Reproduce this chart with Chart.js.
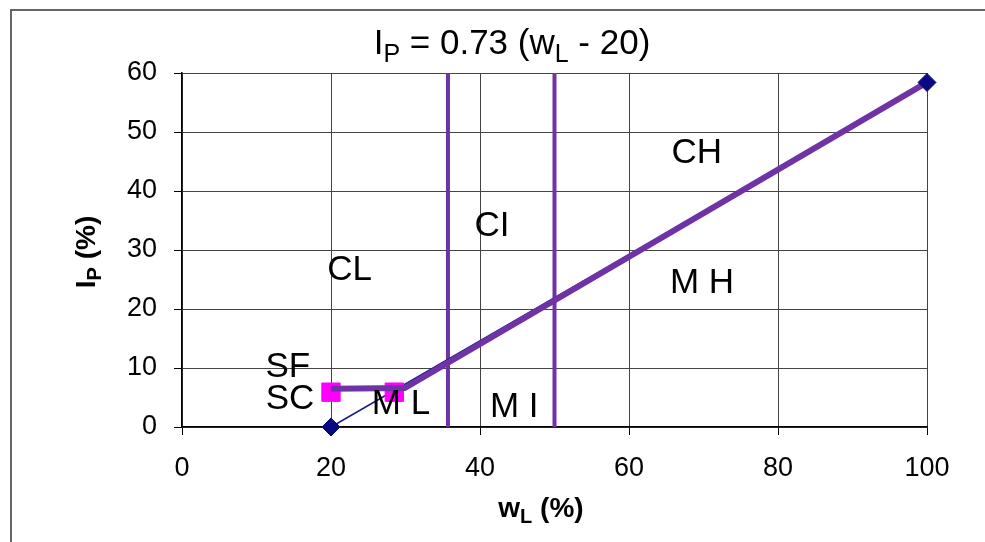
<!DOCTYPE html>
<html>
<head>
<meta charset="utf-8">
<script src="https://cdn.jsdelivr.net/npm/chart.js@4"></script>
<style>
  html, body { margin: 0; padding: 0; background: #fff; }
  #wrap { position: relative; width: 985px; height: 542px; }
</style>
</head>
<body>
<div id="wrap"><canvas id="plasticity"></canvas></div>
<script>
// values
const aLineWl = [20, 100];
const aLineIp = [0, 58.4];
const boundaryWl = [20, 29.9, 100];
const boundaryIp = [6.5, 6.6, 58.4];
const siltSandWl = [20, 28.5];
const siltSandIp = [5.9, 5.9];
const limitWl = [35.7, 50];
const limitIp = [0, 60];
const zoneNames = ['CH', 'CI', 'CL', 'M H', 'SF', 'SC', 'M L', 'M I'];
const zoneWl = [69.1, 41.6, 22.5, 69.8, 14.2, 14.5, 29.4, 44.6];
const zoneIp = [46.8, 34.3, 26.9, 24.7, 10.5, 5.1, 4.1, 3.7];

const FONT = '"Liberation Sans", Arial, sans-serif';
const PURPLE = '#7033a6';
const NAVY = '#0a0a80';

const toPoints = (xs, ys) => xs.map((x, i) => ({ x: x, y: ys[i] }));

// text with subscripts: parts = [[text, isSub], ...]
function drawRich(ctx, parts, cx, cy, size, bold) {
  const weight = bold ? 'bold ' : '';
  const subSize = Math.round(size * 0.7);
  let total = 0;
  parts.forEach(p => {
    ctx.font = weight + (p[1] ? subSize : size) + 'px ' + FONT;
    total += ctx.measureText(p[0]).width;
  });
  let x = cx - total / 2;
  ctx.textAlign = 'left';
  ctx.textBaseline = 'alphabetic';
  parts.forEach(p => {
    ctx.font = weight + (p[1] ? subSize : size) + 'px ' + FONT;
    ctx.fillText(p[0], x, cy + (p[1] ? size * 0.22 : 0));
    x += ctx.measureText(p[0]).width;
  });
}

const textPlugin = {
  id: 'texts',
  beforeDraw(chart) {
    const ctx = chart.ctx;
    ctx.save();
    ctx.strokeStyle = '#666';
    ctx.lineWidth = 2;
    ctx.beginPath();
    ctx.moveTo(11, 542);
    ctx.lineTo(11, 10);
    ctx.lineTo(985, 10);
    ctx.stroke();
    ctx.restore();
  },
  afterDraw(chart) {
    const ctx = chart.ctx;
    const xs = chart.scales.x, ys = chart.scales.y;
    ctx.save();
    ctx.fillStyle = '#000';
    ctx.font = '35px ' + FONT;
    ctx.textAlign = 'center';
    ctx.textBaseline = 'middle';
    zoneNames.forEach((name, i) => {
      ctx.fillText(name, xs.getPixelForValue(zoneWl[i]), ys.getPixelForValue(zoneIp[i]) + 2);
    });

    drawRich(ctx, [['I', false], ['P', true], [' = 0.73 (w', false], ['L', true], [' - 20)', false]], 512, 54, 35, false);
    drawRich(ctx, [['w', false], ['L', true], [' (%)', false]], 541, 517, 28, true);

    ctx.translate(95, 252);
    ctx.rotate(-Math.PI / 2);
    drawRich(ctx, [['I', false], ['P', true], [' (%)', false]], 0, 0, 28, true);
    ctx.restore();
  }
};

new Chart(document.getElementById('plasticity'), {
  type: 'scatter',
  data: {
    datasets: [
      {
        label: 'A-line ends',
        data: toPoints(aLineWl, aLineIp),
        showLine: false,
        pointStyle: 'rectRot',
        pointRadius: 9,
        pointBackgroundColor: NAVY,
        pointBorderColor: NAVY,
        clip: false
      },
      {
        label: 'Boundary',
        data: toPoints(boundaryWl, boundaryIp),
        showLine: true,
        borderColor: PURPLE,
        borderWidth: 6,
        pointRadius: 0,
        clip: false
      },
      {
        label: 'SF / SC',
        data: toPoints(siltSandWl, siltSandIp),
        showLine: false,
        pointStyle: 'rect',
        pointRadius: 13,
        pointBackgroundColor: '#ff00ff',
        pointBorderColor: '#ff00ff',
        clip: false
      },
      {
        label: 'A-line',
        data: toPoints(aLineWl, aLineIp),
        showLine: true,
        borderColor: '#1c1c86',
        borderWidth: 1.5,
        pointRadius: 0,
        clip: false
      },
      {
        label: 'wL limit 1',
        data: toPoints([limitWl[0], limitWl[0]], limitIp),
        showLine: true,
        borderColor: PURPLE,
        borderWidth: 4,
        pointRadius: 0
      },
      {
        label: 'wL limit 2',
        data: toPoints([limitWl[1], limitWl[1]], limitIp),
        showLine: true,
        borderColor: PURPLE,
        borderWidth: 4,
        pointRadius: 0
      }
    ]
  },
  options: {
    responsive: true,
    maintainAspectRatio: false,
    animation: false,
    layout: { padding: { top: 73, right: 58, left: 0, bottom: 0 } },
    plugins: {
      legend: { display: false },
      tooltip: { enabled: false },
      title: { display: false }
    },
    scales: {
      x: {
        min: 0,
        max: 100,
        ticks: { stepSize: 20, color: '#000', font: { size: 27, family: FONT }, padding: 17, maxRotation: 0 },
        grid: { color: '#444', lineWidth: 1, tickLength: 8, tickColor: '#000' },
        border: { color: '#000', width: 1.5 },
        afterFit(scale) { scale.height = 115; }
      },
      y: {
        min: 0,
        max: 60,
        ticks: { stepSize: 10, color: '#000', font: { size: 27, family: FONT }, padding: 17 },
        grid: { color: '#444', lineWidth: 1, tickLength: 8, tickColor: '#000' },
        border: { color: '#000', width: 1.5 },
        afterFit(scale) { scale.width = 182; }
      }
    }
  },
  plugins: [textPlugin]
});
</script>
</body>
</html>
